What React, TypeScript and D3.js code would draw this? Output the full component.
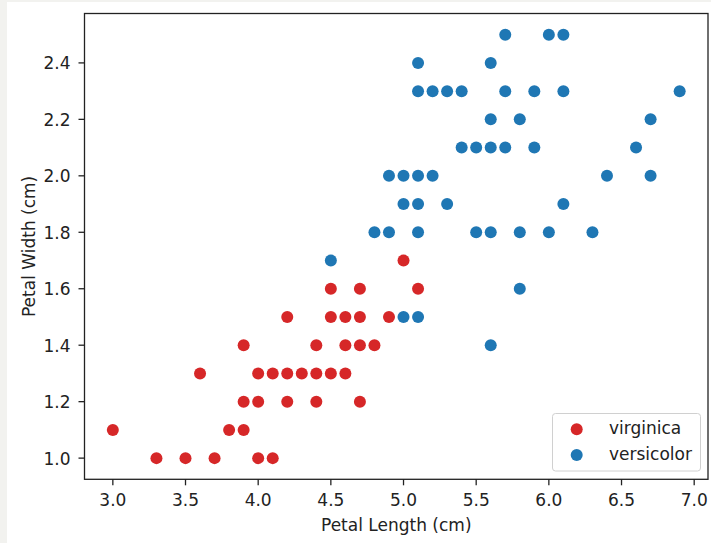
import React from "react";
import * as d3 from "d3";

const W = 711;
const H = 543;

// red series (legend label "virginica")
const redLength = [5.0, 4.5, 4.7, 5.1, 4.2, 4.5, 4.6, 4.7, 4.9, 3.9, 4.4, 4.6, 4.7, 4.8, 3.6, 4.0, 4.1, 4.2, 4.3, 4.4, 4.5, 4.6, 3.9, 4.0, 4.2, 4.4, 4.7, 3.0, 3.8, 3.9, 3.3, 3.5, 3.7, 4.0, 4.1];
const redWidth = [1.7, 1.6, 1.6, 1.6, 1.5, 1.5, 1.5, 1.5, 1.5, 1.4, 1.4, 1.4, 1.4, 1.4, 1.3, 1.3, 1.3, 1.3, 1.3, 1.3, 1.3, 1.3, 1.2, 1.2, 1.2, 1.2, 1.2, 1.1, 1.1, 1.1, 1.0, 1.0, 1.0, 1.0, 1.0];

// blue series (legend label "versicolor")
const blueLength = [5.7, 6.0, 6.1, 5.1, 5.6, 5.1, 5.2, 5.3, 5.4, 5.7, 5.9, 6.1, 6.9, 5.6, 5.8, 6.7, 5.4, 5.5, 5.6, 5.7, 5.9, 6.6, 4.9, 5.0, 5.1, 5.2, 6.4, 6.7, 5.0, 5.1, 5.3, 6.1, 4.8, 4.9, 5.1, 5.5, 5.6, 5.8, 6.0, 6.3, 4.5, 5.8, 5.0, 5.1, 5.6];
const blueWidth = [2.5, 2.5, 2.5, 2.4, 2.4, 2.3, 2.3, 2.3, 2.3, 2.3, 2.3, 2.3, 2.3, 2.2, 2.2, 2.2, 2.1, 2.1, 2.1, 2.1, 2.1, 2.1, 2.0, 2.0, 2.0, 2.0, 2.0, 2.0, 1.9, 1.9, 1.9, 1.9, 1.8, 1.8, 1.8, 1.8, 1.8, 1.8, 1.8, 1.8, 1.7, 1.6, 1.5, 1.5, 1.4];

const xTicks = [3.0, 3.5, 4.0, 4.5, 5.0, 5.5, 6.0, 6.5, 7.0];
const yTicks = [1.0, 1.2, 1.4, 1.6, 1.8, 2.0, 2.2, 2.4];

const seriesNames = ["virginica", "versicolor"];
const seriesColors = ["#d62728", "#1f77b4"];

const FONT = "DejaVu Sans, sans-serif";
const FS = 17;

export default function App() {
  const left = 84.5, right = 708, top = 13.5, bottom = 479.3;
  const x = d3.scaleLinear().domain([2.805, 7.095]).range([left, right]);
  const y = d3.scaleLinear().domain([0.925, 2.575]).range([bottom, top]);
  const r = 6;

  const red = redLength.map((v, i) => [v, redWidth[i]]);
  const blue = blueLength.map((v, i) => [v, blueWidth[i]]);

  return (
    <svg width={W} height={H} style={{ position: "absolute", left: 0, top: 0 }}>
      <rect x={0} y={0} width={W} height={H} fill="#f2f2ef" />
      <rect x={7} y={2} width={W - 7} height={H - 2} fill="#ffffff" />
      {red.map((d, i) => (
        <circle key={"r" + i} cx={x(d[0])} cy={y(d[1])} r={r} fill={seriesColors[0]} />
      ))}
      {blue.map((d, i) => (
        <circle key={"b" + i} cx={x(d[0])} cy={y(d[1])} r={r} fill={seriesColors[1]} />
      ))}
      <rect x={left} y={top} width={right - left} height={bottom - top} fill="none" stroke="#222" strokeWidth={1.3} />
      {xTicks.map((t) => (
        <g key={"xt" + t}>
          <line x1={x(t)} x2={x(t)} y1={bottom} y2={bottom + 6} stroke="#222" strokeWidth={1.3} />
          <text x={x(t)} y={506} textAnchor="middle" fontFamily={FONT} fontSize={FS} fill="#222">
            {t.toFixed(1)}
          </text>
        </g>
      ))}
      {yTicks.map((t) => (
        <g key={"yt" + t}>
          <line x1={left - 6} x2={left} y1={y(t)} y2={y(t)} stroke="#222" strokeWidth={1.3} />
          <text x={70.5} y={y(t) + 6.5} textAnchor="end" fontFamily={FONT} fontSize={FS} fill="#222">
            {t.toFixed(1)}
          </text>
        </g>
      ))}
      <text x={(left + right) / 2} y={530.5} textAnchor="middle" fontFamily={FONT} fontSize={FS} fill="#222">
        Petal Length (cm)
      </text>
      <text
        transform={`translate(35, ${(top + bottom) / 2}) rotate(-90)`}
        textAnchor="middle"
        fontFamily={FONT}
        fontSize={FS}
        fill="#222"
      >
        Petal Width (cm)
      </text>
      <g>
        <rect x={552.5} y={413.5} width={148} height={57.5} rx={3} fill="#ffffff" fillOpacity={0.8} stroke="#d0d0d0" strokeWidth={1} />
        {seriesNames.map((n, i) => (
          <g key={n}>
            <circle cx={576.7} cy={429.3 + i * 25.7} r={r} fill={seriesColors[i]} />
            <text x={609} y={429.3 + i * 25.7 + 5} fontFamily={FONT} fontSize={FS} fill="#222">
              {n}
            </text>
          </g>
        ))}
      </g>
    </svg>
  );
}
